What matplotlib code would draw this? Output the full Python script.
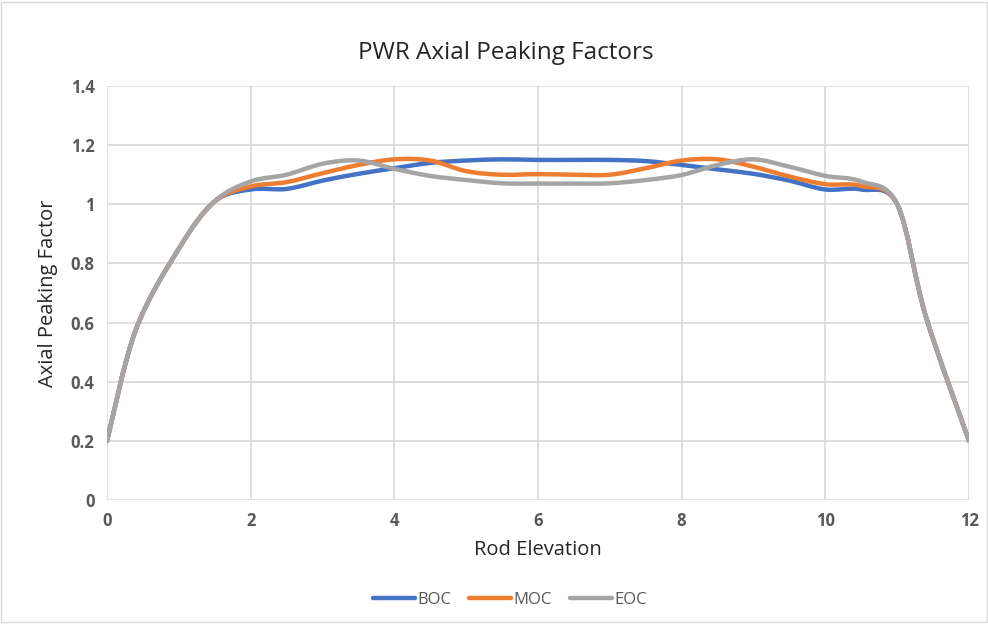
import matplotlib
matplotlib.use("Agg")
import matplotlib.pyplot as plt
from matplotlib.path import Path
from matplotlib.patches import PathPatch, Rectangle
from matplotlib.lines import Line2D

elevation = [0, 0.4, 1, 1.5, 2, 2.5, 3, 3.5, 4, 4.5, 5, 5.5, 6, 6.5, 7, 7.5,
             8, 8.5, 9, 9.5, 10, 10.5, 11, 11.4, 12]
boc = [0.2, 0.575, 0.85, 1.01, 1.05, 1.052, 1.08, 1.103, 1.122, 1.14, 1.148, 1.152,
       1.15, 1.15, 1.15, 1.146, 1.133, 1.118, 1.103, 1.08, 1.05, 1.05, 1.0, 0.62, 0.2]
moc = [0.2, 0.575, 0.85, 1.01, 1.06, 1.075, 1.105, 1.133, 1.152, 1.148, 1.112, 1.10,
       1.102, 1.1, 1.10, 1.122, 1.148, 1.152, 1.127, 1.094, 1.068, 1.062, 1.0, 0.62, 0.2]
eoc = [0.2, 0.575, 0.85, 1.01, 1.077, 1.1, 1.137, 1.148, 1.12, 1.096, 1.082, 1.071,
       1.07, 1.07, 1.071, 1.082, 1.099, 1.133, 1.152, 1.127, 1.096, 1.077, 1.0, 0.62, 0.2]
series_names = ["BOC", "MOC", "EOC"]
series_colors = ["#4472C4", "#ED7D31", "#A5A5A5"]
x_ticks = [0, 2, 4, 6, 8, 10, 12]
y_ticks = [0, 0.2, 0.4, 0.6, 0.8, 1.0, 1.2, 1.4]
y_tick_labels = ["0", "0.2", "0.4", "0.6", "0.8", "1", "1.2", "1.4"]

FONT = ["Open Sans", "DejaVu Sans"]
TXT = "#595959"


def smooth_path(xs, ys):
    """Excel-style smoothed line: cubic Bezier through data points."""
    pts = list(zip(xs, ys))
    n = len(pts)
    verts = [pts[0]]
    codes = [Path.MOVETO]
    for i in range(n - 1):
        p0 = pts[i - 1] if i > 0 else pts[i]
        p1 = pts[i]
        p2 = pts[i + 1]
        p3 = pts[i + 2] if i + 2 < n else pts[i + 1]
        c1 = (p1[0] + (p2[0] - p0[0]) / 6.0, p1[1] + (p2[1] - p0[1]) / 6.0)
        c2 = (p2[0] - (p3[0] - p1[0]) / 6.0, p2[1] - (p3[1] - p1[1]) / 6.0)
        verts += [c1, c2, p2]
        codes += [Path.CURVE4] * 3
    return Path(verts, codes)


fig = plt.figure(figsize=(9.88, 6.24), dpi=100)
fig.patches.append(Rectangle((0.0015, 0.0025), 0.997, 0.995, transform=fig.transFigure,
                             fill=False, edgecolor="#d9d9d9", lw=1))
ax = fig.add_axes([107 / 988, 1 - 500 / 624, (969 - 107) / 988, (500 - 86) / 624])

for ys, c in zip([boc, moc, eoc], series_colors):
    ax.add_patch(PathPatch(smooth_path(elevation, ys), fill=False, edgecolor=c,
                           lw=3.2, capstyle="round", joinstyle="round", zorder=3))

ax.set_xlim(0, 12)
ax.set_ylim(0, 1.4)
ax.set_xticks(x_ticks)
ax.set_xticklabels([str(t) for t in x_ticks])
ax.set_yticks(y_ticks)
ax.set_yticklabels(y_tick_labels)
ax.grid(True, color="#d9d9d9", lw=1.2, zorder=0)
ax.set_axisbelow(True)
for s in ax.spines.values():
    s.set_visible(False)
ax.tick_params(length=0, labelsize=12, labelcolor=TXT, pad=9)
for lab in ax.get_xticklabels() + ax.get_yticklabels():
    lab.set_family(FONT)
    lab.set_fontweight("bold")

ax.set_xlabel("Rod Elevation", fontsize=14.5, family=FONT, color="#262626", labelpad=7)
ax.set_ylabel("Axial Peaking Factor", fontsize=14.5, family=FONT, color="#262626", labelpad=9)
fig.text(506 / 988, 1 - 53 / 624, "PWR Axial Peaking Factors", ha="center", va="center",
         fontsize=17.5, family=FONT, color="#262626")

handles = [Line2D([0], [0], color=c, lw=3.2, solid_capstyle="round") for c in series_colors]
fig.legend(handles, series_names, loc="center", bbox_to_anchor=(510 / 988, 1 - 600 / 624),
           ncol=3, frameon=False, handlelength=2.5, handletextpad=0.15, columnspacing=1.1,
           prop={"family": FONT, "size": 12}, labelcolor=TXT)

fig.savefig("out.png", dpi=100)
